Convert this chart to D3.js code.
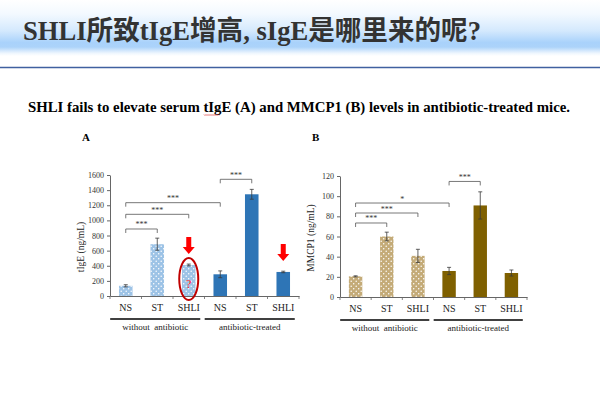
<!DOCTYPE html>
<html>
<head>
<meta charset="utf-8">
<script src="https://cdn.jsdelivr.net/npm/d3@7"></script>
<style>
body { margin: 0; background: #fff; }
text { font-family: "Liberation Serif", "Times New Roman", serif; }
</style>
</head>
<body>
<svg id="chart" width="600" height="399"></svg>
<script>
// chart values
const categories = ["NS", "ST", "SHLI", "NS", "ST", "SHLI"];
const groupNames = ["without  antibiotic", "antibiotic-treated"];

const tigeMeans = [135, 685, 410, 287, 1345, 318];
const tigeErrors = [14, 80, 12, 45, 65, 10];
const tigeTicks = [0, 200, 400, 600, 800, 1000, 1200, 1400, 1600];
// [from, to, level, label]
const tigeSig = [[0, 1, 886, "***"], [0, 2, 1080, "***"], [0, 3, 1234, "***"], [3, 4, 1543, "***"]];
const tigeArrows = [2, 5];

const mmcpMeans = [20.5, 60, 40.8, 25.8, 90.8, 23.8];
const mmcpErrors = [0.5, 4.3, 6.5, 3.6, 13.5, 3];
const mmcpTicks = [0, 20, 40, 60, 80, 100, 120];
const mmcpSig = [[0, 1, 73.4, "***"], [0, 2, 83.3, "***"], [0, 3, 93.2, "*"], [3, 4, 114.6, "***"]];

const svg = d3.select("#chart");
const defs = svg.append("defs");

// header band
const grad = defs.append("linearGradient").attr("id", "hdr")
  .attr("x1", 0).attr("y1", 0).attr("x2", 0).attr("y2", 1);
[[0, "#ffffff"], [0.25, "#f3f9ff"], [0.55, "#d4e9fd"], [0.76, "#a9d2fb"], [0.84, "#acd3fa"], [0.95, "#eef6fe"], [1, "#ffffff"]]
  .forEach(s => grad.append("stop").attr("offset", s[0]).attr("stop-color", s[1]));
svg.append("rect").attr("x", 0).attr("y", 0).attr("width", 600).attr("height", 56).attr("fill", "url(#hdr)");

svg.append("text")
  .attr("x", 23).attr("y", 40)
  .attr("font-size", 27).attr("font-weight", "bold").attr("fill", "#333")
  .attr("textLength", 458).attr("lengthAdjust", "spacingAndGlyphs")
  .style("font-family", "'Liberation Serif', 'Noto Sans CJK SC', serif")
  .text("SHLI所致tIgE增高, sIgE是哪里来的呢?");

svg.append("line").attr("x1", 0).attr("x2", 600).attr("y1", 67.5).attr("y2", 67.5)
  .attr("stroke", "#4060a0").attr("stroke-width", 1.5);

svg.append("text")
  .attr("x", 28).attr("y", 111.5)
  .attr("font-size", 14.5).attr("font-weight", "bold").attr("fill", "#000")
  .attr("textLength", 542).attr("lengthAdjust", "spacingAndGlyphs")
  .text("SHLI fails to elevate serum tIgE (A) and MMCP1 (B) levels in antibiotic-treated mice.");

// spell-check squiggle under tIgE
let sq = "M204,114.5";
for (let i = 0; i < 15; i++) sq += " l1," + (i % 2 ? -1 : 1);
svg.append("path").attr("d", sq).attr("fill", "none").attr("stroke", "#e03030").attr("stroke-width", 0.7);

function dotPattern(id, color) {
  const p = defs.append("pattern").attr("id", id)
    .attr("width", 5).attr("height", 5).attr("patternUnits", "userSpaceOnUse");
  p.append("rect").attr("width", 5).attr("height", 5).attr("fill", color);
  p.append("circle").attr("cx", 1.2).attr("cy", 1.2).attr("r", 0.75).attr("fill", "#fff");
  p.append("circle").attr("cx", 3.7).attr("cy", 3.7).attr("r", 0.75).attr("fill", "#fff");
}
dotPattern("dotsA", "#9dc3e6");
dotPattern("dotsB", "#c4ab78");

function drawPanel(cfg) {
  const g = svg.append("g");

  const x = d3.scaleBand().domain(d3.range(categories.length))
    .range([cfg.left, cfg.right]).paddingInner(0.57).paddingOuter(0.285);
  const y = d3.scaleLinear().domain([0, cfg.max]).range([cfg.bottom, cfg.top]);
  const bw = x.bandwidth();
  const cx = i => x(i) + bw / 2;

  g.append("text").attr("x", cfg.left - 28).attr("y", 141)
    .attr("font-size", 11).attr("font-weight", "bold").text(cfg.letter);

  // y axis
  const yAxis = g.append("g").attr("transform", `translate(${cfg.left},0)`)
    .call(d3.axisLeft(y).tickValues(cfg.ticks).tickFormat(d3.format("d"))
      .tickSize(3).tickSizeOuter(0).tickPadding(3));
  yAxis.selectAll("path, line").attr("stroke", "#666");
  yAxis.selectAll("text").attr("font-size", 8).attr("fill", "#333")
    .style("font-family", "'Liberation Serif', serif");

  g.append("text")
    .attr("transform", `translate(${cfg.left - 26},${cfg.labelY}) rotate(-90)`)
    .attr("text-anchor", "middle").attr("font-size", 9.5).attr("fill", "#222")
    .text(cfg.yLabel);

  // x axis with ticks at band edges
  const xAxis = g.append("g").attr("transform", `translate(0,${cfg.bottom})`)
    .call(d3.axisBottom(x).tickSize(0).tickPadding(8).tickFormat(i => categories[i]));
  xAxis.select("path").attr("stroke", "#666");
  xAxis.selectAll("text").attr("font-size", 10).attr("fill", "#222")
    .style("font-family", "'Liberation Serif', serif");
  g.selectAll(".edge").data(d3.range(categories.length + 1)).join("line")
    .attr("x1", i => x(0) - x.step() * x.paddingOuter() + i * x.step())
    .attr("x2", i => x(0) - x.step() * x.paddingOuter() + i * x.step())
    .attr("y1", cfg.bottom).attr("y2", cfg.bottom + 3)
    .attr("stroke", "#666").attr("stroke-width", 0.8);

  // bars
  g.selectAll(".bar").data(cfg.means).join("rect")
    .attr("x", (d, i) => x(i)).attr("width", bw)
    .attr("y", d => y(d)).attr("height", d => cfg.bottom - y(d))
    .attr("fill", (d, i) => i < 3 ? `url(#${cfg.pattern})` : cfg.dark);

  // error bars
  const eb = g.selectAll(".err").data(cfg.means).join("g").attr("stroke", "#3a3a3a").attr("stroke-width", 0.8);
  eb.append("line").attr("x1", (d, i) => cx(i)).attr("x2", (d, i) => cx(i))
    .attr("y1", (d, i) => y(d - cfg.errors[i])).attr("y2", (d, i) => y(d + cfg.errors[i]));
  eb.append("line").attr("x1", (d, i) => cx(i) - 2).attr("x2", (d, i) => cx(i) + 2)
    .attr("y1", (d, i) => y(d + cfg.errors[i])).attr("y2", (d, i) => y(d + cfg.errors[i]));
  eb.append("line").attr("x1", (d, i) => cx(i) - 2).attr("x2", (d, i) => cx(i) + 2)
    .attr("y1", (d, i) => y(d - cfg.errors[i])).attr("y2", (d, i) => y(d - cfg.errors[i]));

  // significance brackets
  cfg.sig.forEach(([a, b, lvl, lab]) => {
    g.append("path")
      .attr("d", `M${cx(a)},${y(lvl) + 4}V${y(lvl)}H${cx(b)}V${y(lvl) + 4}`)
      .attr("fill", "none").attr("stroke", "#555").attr("stroke-width", 0.8);
    g.append("text").attr("x", (cx(a) + cx(b)) / 2).attr("y", y(lvl) - 1.5)
      .attr("text-anchor", "middle").attr("font-size", 8).attr("fill", "#333").text(lab);
  });

  // group underlines
  [[0, 2], [3, 5]].forEach(([a, b], k) => {
    const xa = x(a) - bw * 0.65, xb = x(b) + bw * 1.35;
    g.append("line").attr("x1", xa).attr("x2", xb)
      .attr("y1", cfg.bottom + 23).attr("y2", cfg.bottom + 23)
      .attr("stroke", "#000").attr("stroke-width", 1.6);
    g.append("text").attr("x", (xa + xb) / 2).attr("y", cfg.bottom + 34)
      .attr("text-anchor", "middle").attr("font-size", 9).attr("fill", "#222")
      .attr("xml:space", "preserve").text(groupNames[k]);
  });

  return { g, x, y, cx };
}

const A = drawPanel({
  letter: "A", left: 110, right: 299, top: 175, bottom: 296, max: 1600,
  ticks: tigeTicks, means: tigeMeans, errors: tigeErrors, sig: tigeSig,
  pattern: "dotsA", dark: "#2e75b6", yLabel: "tIgE (ng/mL)", labelY: 247
});

drawPanel({
  letter: "B", left: 340, right: 527, top: 176, bottom: 297, max: 120,
  ticks: mmcpTicks, means: mmcpMeans, errors: mmcpErrors, sig: mmcpSig,
  pattern: "dotsB", dark: "#7f6000", yLabel: "MMCP1 (ng/mL)", labelY: 238
});

// red arrows over flagged SHLI bars
tigeArrows.forEach(i => {
  const ax = A.cx(i), tip = A.y(tigeMeans[i]) - 11;
  A.g.append("path")
    .attr("d", `M${ax - 2.5},${tip - 17}h5v10h3.5l-6,7l-6,-7h3.5z`)
    .attr("fill", "#ff0000");
});

// circled question mark on the first SHLI bar
A.g.append("ellipse").attr("cx", A.cx(2)).attr("cy", A.y(tigeMeans[2]) + 14)
  .attr("rx", 9.5).attr("ry", 21)
  .attr("fill", "none").attr("stroke", "#c00000").attr("stroke-width", 2);
A.g.append("text").attr("x", A.cx(2)).attr("y", A.y(tigeMeans[2]) + 23)
  .attr("text-anchor", "middle").attr("font-size", 12).attr("fill", "#ff2020").text("?");
</script>
</body>
</html>
